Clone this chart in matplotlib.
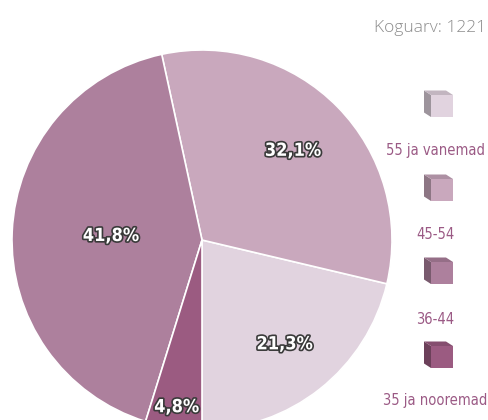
import matplotlib.pyplot as plt
import matplotlib.patheffects as pe
from matplotlib.patches import Polygon
import numpy as np

plt.rcParams['font.family'] = ['DejaVu Sans']
plt.rcParams['font.stretch'] = 'condensed'

# age groups, counter-clockwise from the bottom
groups = ['55 ja vanemad', '45-54', '36-44', '35 ja nooremad']
shares = [21.3, 32.1, 41.8, 4.8]
colors = ['#e1d3df', '#c9a8bd', '#ad809d', '#9b5b81']
total_label = 'Koguarv: 1221'

# radial position of each percentage label (fraction of radius)
label_dist = [0.70, 0.67, 0.48, 0.89]

W, H = 489, 420
fig = plt.figure(figsize=(W / 100, H / 100), dpi=100)
ax = fig.add_axes([0, 0, 1, 1])

cx, cy, r = 202, H - 240, 190
wedges, _ = ax.pie(shares, colors=colors, startangle=-90, counterclock=True,
                   center=(cx, cy), radius=r,
                   wedgeprops=dict(edgecolor='white', linewidth=1.2))

outline = [pe.withStroke(linewidth=2.4, foreground='#3a3a3a')]
for w, v, d in zip(wedges, shares, label_dist):
    ang = np.deg2rad((w.theta1 + w.theta2) / 2)
    ax.text(cx + d * r * np.cos(ang), cy + d * r * np.sin(ang),
            f'{v:.1f}%'.replace('.', ','), ha='center', va='center',
            fontsize=13, fontweight='bold', color='white',
            path_effects=outline)


def shade(c, f):
    rgb = np.array(plt.matplotlib.colors.to_rgb(c))
    return tuple(np.clip(rgb * f, 0, 1))


# legend: small cubes with the group name underneath
cube_y = [106, 190, 273, 357]
text_y = [150, 235, 320, 400]
s, dx, dy = 22, 7, 4.5
for c, g, yc, yt in zip(colors, groups, cube_y, text_y):
    x0 = 431
    y0 = H - yc - s / 2  # bottom of front face
    front = Polygon([(x0, y0), (x0 + s, y0), (x0 + s, y0 + s), (x0, y0 + s)],
                    closed=True, facecolor=c, edgecolor='none')
    side = Polygon([(x0, y0), (x0, y0 + s), (x0 - dx, y0 + s + dy),
                    (x0 - dx, y0 + dy)],
                   closed=True, facecolor=shade(c, 0.7), edgecolor='none')
    top = Polygon([(x0, y0 + s), (x0 + s, y0 + s),
                   (x0 + s - dx, y0 + s + dy),
                   (x0 - dx, y0 + s + dy)],
                  closed=True, facecolor=shade(c, 0.86), edgecolor='none')
    for p in (side, top, front):
        ax.add_patch(p)
    ax.text(435, H - yt, g, ha='center', va='center', fontsize=10.5,
            color='#9b5a85')

ax.text(486, H - 28, total_label, ha='right', va='center', fontsize=12.5,
        color='#8c8c8c', family=['Open Sans', 'DejaVu Sans'],
        fontweight='light', fontstretch='normal')

ax.set_xlim(0, W)
ax.set_ylim(0, H)
ax.set_aspect('equal')
ax.axis('off')
fig.savefig('out.png', dpi=100)
